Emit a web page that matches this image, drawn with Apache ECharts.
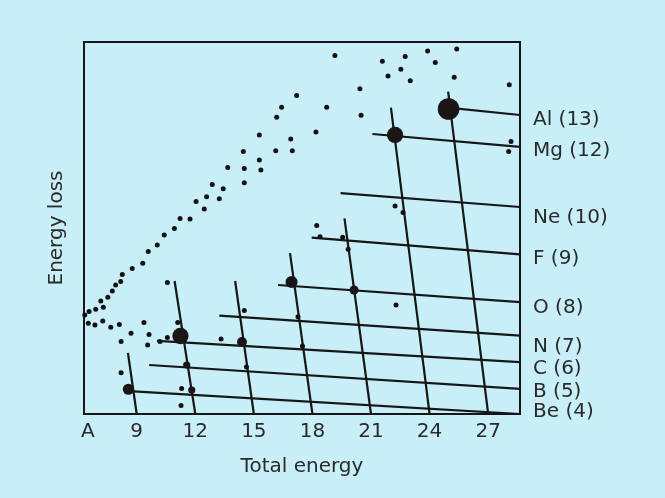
<!DOCTYPE html>
<html>
<head>
<meta charset="utf-8">
<title>Energy loss vs total energy</title>
<script src="https://cdn.jsdelivr.net/npm/echarts@6/dist/echarts.min.js"></script>
<style>
  html, body { margin: 0; padding: 0; background: #c8eff8; }
  #chart { width: 665px; height: 498px; }
</style>
</head>
<body>
<div id="chart"></div>
<script>
// Horizontal axis: "A" marks the origin, then total-energy values
const xTickValues = [6.5, 9, 12, 15, 18, 21, 24, 27];
const xTickLabels = ['A', '9', '12', '15', '18', '21', '24', '27'];
const xRange = [6.3, 28.63];
const yRange = [0, 93];

// Element bands (lines of equal atomic number), bottom to top
const elementNames = ['Be (4)', 'B (5)', 'C (6)', 'N (7)', 'O (8)', 'F (9)', 'Ne (10)', 'Mg (12)', 'Al (13)'];
const elementLineStart = [
  [8.40, 5.8], [9.64, 12.25], [10.04, 18.3], [13.23, 24.6], [16.24, 32.25],
  [17.96, 44.1], [19.44, 55.2], [21.07, 70.0], [24.92, 76.6]
];
const elementLineEndY = [0, 6.3, 12.95, 19.6, 27.95, 39.9, 51.75, 66.8, 74.75];
const elementLabelY = [0.6, 5.6, 11.3, 16.9, 26.5, 38.7, 49.1, 65.7, 73.6];

// Lines of constant total energy, meeting the axis at these values
const isolineAxisValue = [9, 12, 15, 18, 21, 24, 27];
const isolineTop = [
  [8.55, 15.3], [10.94, 33.25], [14.04, 33.25], [16.85, 40.2],
  [19.64, 48.9], [22.02, 76.6], [24.95, 80.6]
];

// Single recorded events: [total energy, energy loss]
const events = [
  [6.34, 24.75], [6.56, 25.6], [6.90, 26.2], [7.16, 28.25], [7.29, 26.7],
  [7.52, 29.2], [7.75, 30.75], [7.92, 32.25], [8.18, 33.1], [8.26, 34.9],
  [8.77, 36.4], [9.31, 37.7], [9.59, 40.6], [10.05, 42.25], [10.41, 44.75],
  [10.93, 46.4], [11.22, 48.9], [11.73, 48.75], [12.04, 53.1], [12.46, 51.25],
  [12.58, 54.3], [12.87, 57.4], [13.23, 53.8], [13.43, 56.3], [13.66, 61.6],
  [14.46, 65.6], [14.51, 61.4], [14.51, 57.8], [15.28, 69.75], [15.28, 63.5],
  [15.36, 61.0], [16.12, 65.8], [16.17, 74.2], [16.42, 76.7], [16.89, 68.75],
  [16.97, 65.8], [17.19, 79.6], [18.18, 70.5], [18.73, 76.7], [19.15, 89.6],
  [20.43, 81.3], [20.49, 74.7], [21.58, 88.2], [21.87, 84.5], [22.53, 86.2],
  [22.75, 89.4], [23.01, 83.3], [23.90, 90.75], [24.29, 87.9], [25.26, 84.2],
  [25.39, 91.25], [28.08, 82.3], [28.17, 68.1], [28.05, 65.6],
  [6.52, 22.7], [6.86, 22.25], [7.26, 23.25], [7.67, 21.7], [8.11, 22.4],
  [8.71, 20.2], [8.20, 18.1], [9.37, 22.9], [9.63, 19.9], [9.56, 17.25],
  [10.19, 18.1], [10.57, 19.1], [11.10, 22.9], [10.57, 32.9], [8.20, 10.3],
  [11.30, 6.4], [11.27, 2.1], [13.32, 18.75], [14.51, 25.9], [14.62, 11.75],
  [17.26, 24.3], [17.49, 17.0], [18.22, 47.1], [18.39, 44.3], [19.55, 44.2],
  [19.83, 41.2], [22.28, 27.25], [22.23, 52.0], [22.64, 50.4]
];

// Event clusters: [total energy, energy loss, count]
const clusters = [
  [24.97, 76.25, 40], [22.23, 69.75, 19], [16.93, 33.0, 8], [20.13, 31.0, 3],
  [11.24, 19.5, 19], [14.39, 18.0, 4], [8.57, 6.2, 6], [11.56, 12.25, 1], [11.82, 6.0, 1]
];

const ink = '#161616';
const textColor = '#2a2a2a';
const font = 'DejaVu Sans';

const lineStyle = { color: ink, width: 2.2 };

const elementSeries = elementNames.map((name, i) => ({
  type: 'line',
  name: name,
  data: [elementLineStart[i], [xRange[1], elementLineEndY[i]]],
  symbol: 'none',
  lineStyle: lineStyle,
  silent: true,
  z: 2
}));

const isolineSeries = isolineAxisValue.map((v, i) => ({
  type: 'line',
  name: 'E = ' + v,
  data: [isolineTop[i], [v, 0]],
  symbol: 'none',
  lineStyle: lineStyle,
  silent: true,
  z: 2
}));

const chart = echarts.init(document.getElementById('chart'), null, { renderer: 'canvas' });

chart.setOption({
  backgroundColor: '#c8eff8',
  animation: false,
  textStyle: { fontFamily: font },
  grid: {
    left: 84, right: 145, top: 42, bottom: 84,
    show: true, borderColor: ink, borderWidth: 2, backgroundColor: 'transparent'
  },
  xAxis: {
    type: 'value',
    min: xRange[0], max: xRange[1],
    name: 'Total energy',
    nameLocation: 'middle',
    nameGap: 43,
    nameTextStyle: { fontSize: 20, color: textColor, fontFamily: font },
    axisLine: { show: false },
    axisTick: { show: false },
    splitLine: { show: false },
    axisLabel: {
      customValues: xTickValues,
      formatter: v => xTickLabels[xTickValues.indexOf(v)],
      hideOverlap: false,
      fontSize: 20, color: textColor, fontFamily: font, margin: 8
    }
  },
  yAxis: [{
    type: 'value',
    min: yRange[0], max: yRange[1],
    name: 'Energy loss',
    nameLocation: 'middle',
    nameGap: 17,
    nameTextStyle: { fontSize: 20, color: textColor, fontFamily: font },
    axisLine: { show: false },
    axisTick: { show: false },
    splitLine: { show: false },
    axisLabel: { show: false }
  }, {
    type: 'value',
    position: 'right',
    min: yRange[0], max: yRange[1],
    axisLine: { show: false },
    axisTick: { show: false },
    splitLine: { show: false },
    axisLabel: {
      customValues: elementLabelY,
      formatter: v => elementNames[elementLabelY.indexOf(v)],
      hideOverlap: false,
      showMinLabel: true,
      fontSize: 20, color: textColor, fontFamily: font, margin: 13
    }
  }],
  series: [
    ...elementSeries,
    ...isolineSeries,
    {
      type: 'scatter',
      name: 'events',
      data: events,
      symbol: 'circle',
      symbolSize: 5,
      itemStyle: { color: '#121212', opacity: 1 },
      z: 3
    },
    {
      type: 'scatter',
      name: 'clusters',
      data: clusters,
      symbol: 'circle',
      symbolSize: d => 4.5 + 2.7 * Math.sqrt(d[2]),
      itemStyle: { color: '#1c1516', opacity: 1 },
      z: 4
    }
  ]
});
</script>
</body>
</html>
